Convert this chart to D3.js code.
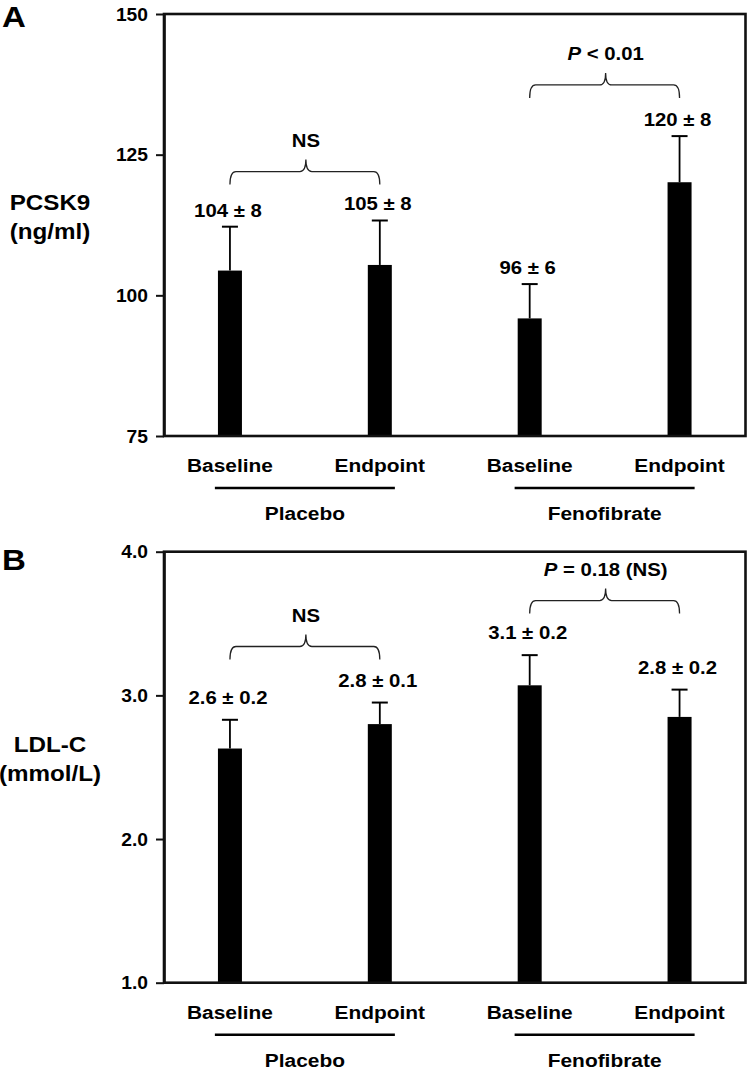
<!DOCTYPE html>
<html>
<head>
<meta charset="utf-8">
<script src="https://cdn.jsdelivr.net/npm/d3@7"></script>
<style>
  html, body { margin: 0; padding: 0; background: #fff; }
  svg text { font-family: "Liberation Sans", Arial, Helvetica, sans-serif; font-weight: bold; fill: #000; }
</style>
</head>
<body>
<svg id="chart" width="749" height="1070"></svg>
<script>
// ---------- data ----------
const conditions = ["Placebo-Baseline", "Placebo-Endpoint", "Fenofibrate-Baseline", "Fenofibrate-Endpoint"];
const conditionLabels = ["Baseline", "Endpoint", "Baseline", "Endpoint"];
const groups = ["Placebo", "Fenofibrate"];
const groupMembers = [[0, 1], [2, 3]];

const pcsk9Means = [104.4, 105.4, 95.9, 120.1];
const pcsk9Errors = [7.8, 7.9, 6.1, 8.2];
const pcsk9ValueLabels = ["104 ± 8", "105 ± 8", "96 ± 6", "120 ± 8"];
const pcsk9Ticks = [75, 100, 125, 150];
const pcsk9Comparisons = [
  { from: 0, to: 1, level: 122, prefix: "", italic: "", rest: "NS" },
  { from: 2, to: 3, level: 137.4, prefix: "", italic: "P", rest: " < 0.01" }
];

const ldlMeans = [2.63, 2.80, 3.07, 2.85];
const ldlErrors = [0.20, 0.15, 0.21, 0.19];
const ldlValueLabels = ["2.6 ± 0.2", "2.8 ± 0.1", "3.1 ± 0.2", "2.8 ± 0.2"];
const ldlTicks = [1.0, 2.0, 3.0, 4.0];
const ldlComparisons = [
  { from: 0, to: 1, level: 3.34, prefix: "", italic: "", rest: "NS" },
  { from: 2, to: 3, level: 3.66, prefix: "", italic: "P", rest: " = 0.18 (NS)" }
];

// ---------- layout ----------
const SX = 1.1;              // horizontal stretch of the original lettering
const frameLeft = 164, frameRight = 745.5;
const svg = d3.select("#chart");

function addText(parent, x, y, size, anchor) {
  return parent.append("text")
    .attr("transform", `translate(${x},${y}) scale(${SX},1)`)
    .attr("text-anchor", anchor)
    .style("font-size", size + "px");
}

function drawPanel(cfg) {
  const g = svg.append("g");
  const x = d3.scalePoint().domain(conditions).range([frameLeft, frameRight]).padding(0.44);
  const y = d3.scaleLinear().domain(cfg.domain).range([cfg.bottom, cfg.top]);
  const barW = 24;

  // panel letter
  addText(g, 2, cfg.top + cfg.letterDy, 30, "start").text(cfg.letter);

  // y title
  const mid = (cfg.top + cfg.bottom) / 2;
  addText(g, 50, mid - 15, 22, "middle").text(cfg.title[0]);
  addText(g, 50, mid + 14, 22, "middle").text(cfg.title[1]);

  // bars
  const data = conditions.map((c, i) => ({ c, i, m: cfg.means[i], e: cfg.errors[i], lab: cfg.labels[i] }));
  g.selectAll("rect.bar").data(data).join("rect")
    .attr("class", "bar")
    .attr("x", d => x(d.c) - barW / 2)
    .attr("width", barW)
    .attr("y", d => y(d.m))
    .attr("height", d => y(cfg.domain[0]) - y(d.m))
    .attr("fill", "#000");

  // error bars (upper only)
  g.selectAll("line.err").data(data).join("line")
    .attr("class", "err")
    .attr("x1", d => x(d.c)).attr("x2", d => x(d.c))
    .attr("y1", d => y(d.m)).attr("y2", d => y(d.m + d.e))
    .attr("stroke", "#000").attr("stroke-width", 1.8);
  g.selectAll("line.cap").data(data).join("line")
    .attr("class", "cap")
    .attr("x1", d => x(d.c) - 8).attr("x2", d => x(d.c) + 8)
    .attr("y1", d => y(d.m + d.e)).attr("y2", d => y(d.m + d.e))
    .attr("stroke", "#000").attr("stroke-width", 2);

  // value labels
  data.forEach(d => {
    addText(g, x(d.c) - 2, y(d.m + d.e) - cfg.labelGap, 18.5, "middle").text(d.lab);
  });

  // frame
  g.append("rect")
    .attr("x", frameLeft).attr("y", cfg.top)
    .attr("width", frameRight - frameLeft).attr("height", cfg.bottom - cfg.top)
    .attr("fill", "none").attr("stroke", "#111").attr("stroke-width", 2.6);

  // y axis
  const axis = d3.axisLeft(y).tickValues(cfg.ticks).tickFormat(d3.format(cfg.fmt)).tickSize(8).tickSizeOuter(0);
  const ag = g.append("g").attr("transform", `translate(${frameLeft},0)`).call(axis);
  ag.select(".domain").attr("stroke", "#111").attr("stroke-width", 2.6);
  ag.selectAll(".tick line").attr("stroke", "#111").attr("stroke-width", 2);
  ag.selectAll(".tick text")
    .attr("x", null).attr("dy", null)
    .attr("transform", `translate(-16,6) scale(${SX},1)`)
    .attr("text-anchor", "end")
    .style("font-size", "17.5px")
    .style("font-family", "'Liberation Sans', Arial, sans-serif")
    .style("font-weight", "bold")
    .attr("fill", "#000");

  // category labels
  conditions.forEach((c, i) => {
    addText(g, x(c), cfg.bottom + 36, 19, "middle").text(conditionLabels[i]);
  });

  // group lines and labels
  groupMembers.forEach((mem, gi) => {
    const cx = (x(conditions[mem[0]]) + x(conditions[mem[1]])) / 2;
    g.append("line")
      .attr("x1", cx - 90).attr("x2", cx + 90)
      .attr("y1", cfg.bottom + 52).attr("y2", cfg.bottom + 52)
      .attr("stroke", "#000").attr("stroke-width", 2.6);
    addText(g, cx, cfg.bottom + 84, 19, "middle").text(groups[gi]);
  });

  // comparison braces
  const arm = 13, tip = 12, r = 6;
  cfg.comparisons.forEach(cmp => {
    const x0 = x(conditions[cmp.from]), x1 = x(conditions[cmp.to]);
    const m = (x0 + x1) / 2 + 1;
    const yy = y(cmp.level);
    const p = d3.path();
    p.moveTo(x0, yy + arm);
    p.quadraticCurveTo(x0, yy, x0 + r, yy);
    p.lineTo(m - r, yy);
    p.quadraticCurveTo(m, yy, m, yy - tip);
    p.quadraticCurveTo(m, yy, m + r, yy);
    p.lineTo(x1 - r, yy);
    p.quadraticCurveTo(x1, yy, x1, yy + arm);
    g.append("path").attr("d", p.toString())
      .attr("fill", "none").attr("stroke", "#222").attr("stroke-width", 1.3);
    const t = addText(g, m, yy - tip - 13, 18.5, "middle");
    if (cmp.italic) t.append("tspan").style("font-style", "italic").text(cmp.italic);
    t.append("tspan").text(cmp.rest);
  });
}

drawPanel({
  letter: "A", letterDy: 13, top: 14, bottom: 436, domain: [75, 150],
  ticks: pcsk9Ticks, fmt: "d", title: ["PCSK9", "(ng/ml)"],
  means: pcsk9Means, errors: pcsk9Errors, labels: pcsk9ValueLabels,
  comparisons: pcsk9Comparisons, labelGap: 10
});
drawPanel({
  letter: "B", letterDy: 18, top: 551.7, bottom: 982.7, domain: [1, 4],
  ticks: ldlTicks, fmt: ".1f", title: ["LDL-C", "(mmol/L)"],
  means: ldlMeans, errors: ldlErrors, labels: ldlValueLabels,
  comparisons: ldlComparisons, labelGap: 16
});
</script>
</body>
</html>
